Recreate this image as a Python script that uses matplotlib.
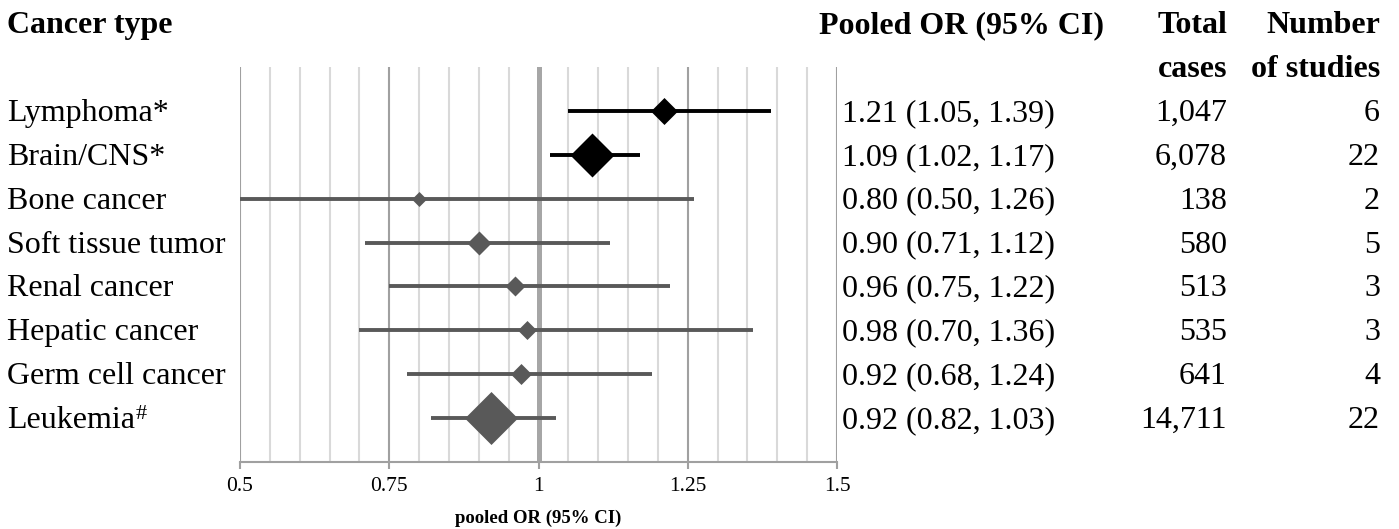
import matplotlib
matplotlib.use("Agg")
import matplotlib.pyplot as plt
from matplotlib.transforms import blended_transform_factory, ScaledTranslation
import numpy as np

# ---------------- data ----------------
cancer_types = ["Lymphoma*", "Brain/CNS*", "Bone cancer", "Soft tissue tumor",
                "Renal cancer", "Hepatic cancer", "Germ cell cancer", "Leukemia"]
# values as drawn in the plot
plot_or = [1.21, 1.09, 0.80, 0.90, 0.96, 0.98, 0.97, 0.92]
plot_lo = [1.05, 1.02, 0.50, 0.71, 0.75, 0.70, 0.78, 0.82]
plot_hi = [1.39, 1.17, 1.26, 1.12, 1.22, 1.36, 1.19, 1.03]
# table columns as printed
or_text = ["1.21 (1.05, 1.39)", "1.09 (1.02, 1.17)", "0.80 (0.50, 1.26)",
           "0.90 (0.71, 1.12)", "0.96 (0.75, 1.22)", "0.98 (0.70, 1.36)",
           "0.92 (0.68, 1.24)", "0.92 (0.82, 1.03)"]
total_cases = ["1,047", "6,078", "138", "580", "513", "535", "641", "14,711"]
n_studies = ["6", "22", "2", "5", "3", "3", "4", "22"]
significant = [True, True, False, False, False, False, False, False]
x_ticks = [0.5, 0.75, 1.0, 1.25, 1.5]
x_tick_labels = ["0.5", "0.75", "1", "1.25", "1.5"]

# ---------------- style ----------------
marker_px = [27, 44, 15, 24, 20, 19, 21, 53]   # diamond extent in pixels
SERIF = ["Liberation Serif", "DejaVu Serif"]
plt.rcParams["font.family"] = SERIF
FS = 23
DPI = 100
W, H = 1399, 529

fig = plt.figure(figsize=(W / DPI, H / DPI), dpi=DPI)
ax = fig.add_axes([240 / W, 1 - 462 / H, 597 / W, 395 / H])
n = len(cancer_types)
ax.set_xlim(0.5, 1.5)
ax.set_ylim(n, -1)

# gridlines
minor = np.round(np.arange(0.55, 1.5, 0.05), 2)
for xv in minor:
    if xv in (0.75, 1.0, 1.25):
        continue
    ax.axvline(xv, color="#d9d9d9", lw=1.5, zorder=1)
for xv in (0.5, 0.75, 1.25, 1.5):
    ax.axvline(xv, color="#a0a0a0", lw=1.5, zorder=1)
ax.axvline(1.0, color="#a6a6a6", lw=3.6, zorder=1)

for i in range(n):
    col = "#000000" if significant[i] else "#595959"
    ax.plot([plot_lo[i], plot_hi[i]], [i, i], color=col, lw=2.8,
            solid_capstyle="butt", zorder=3)
    ax.plot([plot_or[i]], [i], marker=(4, 0, 0), ms=marker_px[i] * 0.72,
            color=col, mec=col, mew=0, zorder=4, linestyle="none")

for s in ("top", "left", "right"):
    ax.spines[s].set_visible(False)
ax.spines["bottom"].set_color("#a0a0a0")
ax.spines["bottom"].set_linewidth(1.5)
ax.set_yticks([])
ax.set_xticks(x_ticks)
ax.set_xticklabels(x_tick_labels)
ax.tick_params(axis="x", direction="out", length=5, width=1.5, color="#a0a0a0",
               labelsize=15.5, pad=6)

fig.text(538 / W, 1 - 518 / H, "pooled OR (95% CI)", ha="center", va="center",
         fontsize=13.5, fontweight="bold")

# text table
off = ScaledTranslation(0, -10 / DPI, fig.dpi_scale_trans)
tr = blended_transform_factory(fig.transFigure, ax.transData) + off

def put(xpx, row, s, ha="left", bold=False):
    return fig.text(xpx / W, row, s, transform=tr, ha=ha, va="baseline",
                    fontsize=FS, fontweight="bold" if bold else "normal")

put(7, -2, "Cancer type", bold=True)
put(819, -2, "Pooled OR (95% CI)", bold=True)
put(1227, -2, "Total", ha="right", bold=True)
put(1227, -1, "cases", ha="right", bold=True)
put(1380, -2, "Number", ha="right", bold=True)
put(1380, -1, "of studies", ha="right", bold=True)

for i in range(n):
    t = put(7, i, cancer_types[i])
    put(842, i, or_text[i])
    put(1227, i, total_cases[i], ha="right")
    put(1380, i, n_studies[i], ha="right")
    if cancer_types[i] == "Leukemia":
        ax.annotate("#", xy=(1.0, 1.0), xycoords=t, xytext=(0.5, 1),
                    textcoords="offset points", ha="left", va="top",
                    fontsize=16, annotation_clip=False)

fig.savefig("out.png", dpi=DPI)
